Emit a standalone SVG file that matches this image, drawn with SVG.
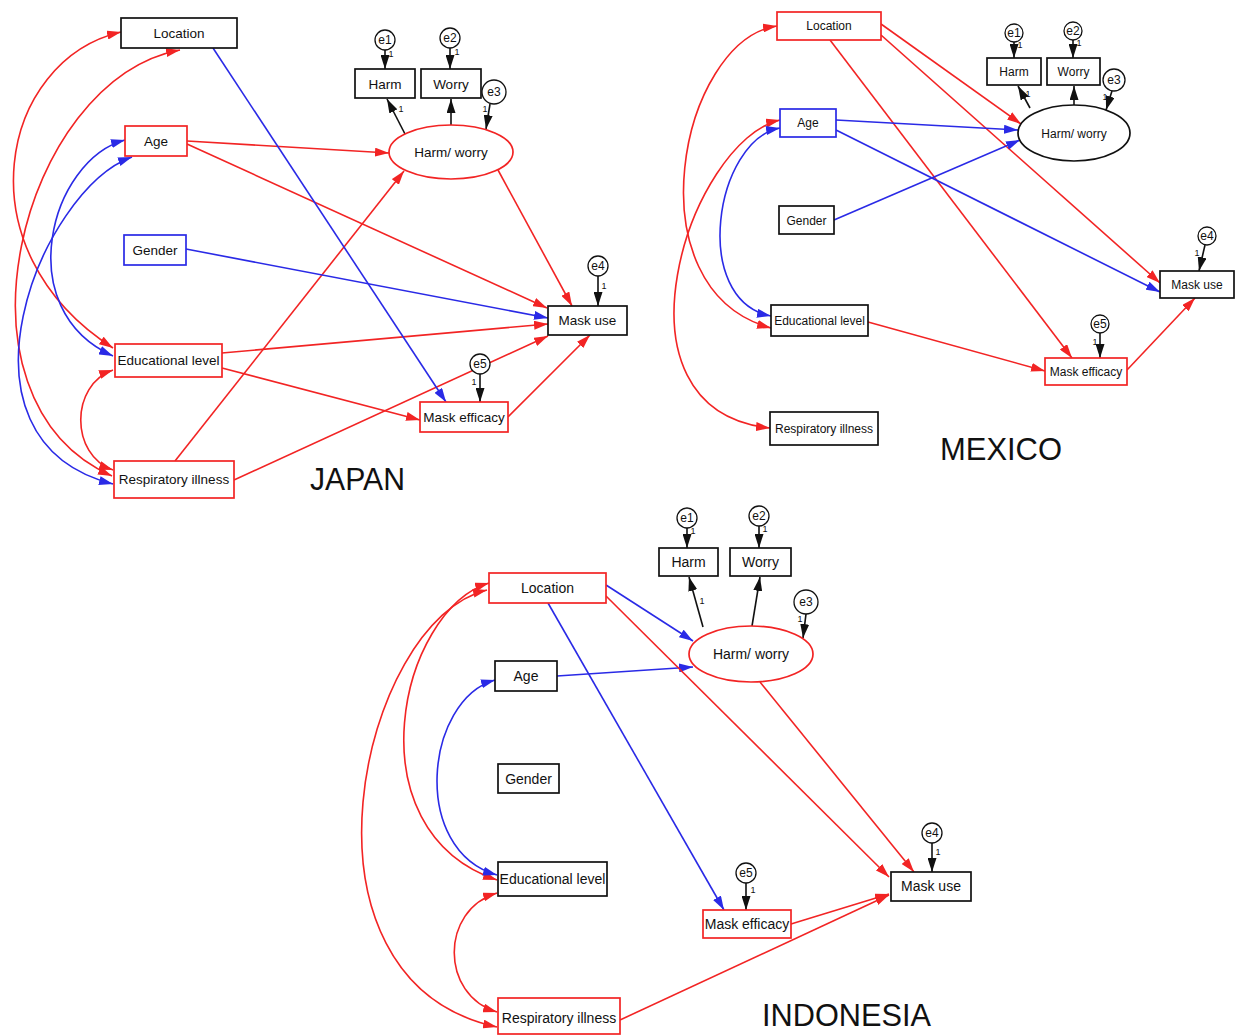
<svg xmlns="http://www.w3.org/2000/svg" width="1237" height="1036" viewBox="0 0 1237 1036">
<style>
.bk{fill:#fff;stroke:#111;stroke-width:1.7}
.rd{fill:#fff;stroke:#f22424;stroke-width:1.7}
.bl{fill:#fff;stroke:#2a2ae6;stroke-width:1.7}
.e{fill:#fff;stroke:#111;stroke-width:1.3}
text{font-family:"Liberation Sans",Arial,sans-serif;fill:#111;text-anchor:middle}
.t1{font-size:13.5px}
.t2{font-size:12px}
.t3{font-size:14px}
.s{font-size:12px}
.n{font-size:9px}
.ttl{font-size:31px;text-anchor:start}
.cr{fill:none;stroke:#f22424;stroke-width:1.6;marker-end:url(#ar)}
.cb{fill:none;stroke:#2a2ae6;stroke-width:1.6;marker-end:url(#ab)}
.ck{fill:none;stroke:#111;stroke-width:1.6;marker-end:url(#ak)}
.dr{fill:none;stroke:#f22424;stroke-width:1.6;marker-start:url(#ar);marker-end:url(#ar)}
.db{fill:none;stroke:#2a2ae6;stroke-width:1.6;marker-start:url(#ab);marker-end:url(#ab)}
</style>
<defs>
<marker id="ar" viewBox="0 0 14 9" refX="14" refY="4.5" markerWidth="14" markerHeight="9" markerUnits="userSpaceOnUse" orient="auto-start-reverse"><path d="M0,0 L14,4.5 L0,9 z" fill="#f22424"/></marker>
<marker id="ab" viewBox="0 0 14 9" refX="14" refY="4.5" markerWidth="14" markerHeight="9" markerUnits="userSpaceOnUse" orient="auto-start-reverse"><path d="M0,0 L14,4.5 L0,9 z" fill="#2a2ae6"/></marker>
<marker id="ak" viewBox="0 0 14 9" refX="14" refY="4.5" markerWidth="14" markerHeight="9" markerUnits="userSpaceOnUse" orient="auto-start-reverse"><path d="M0,0 L14,4.5 L0,9 z" fill="#111"/></marker>
</defs>
<rect width="1237" height="1036" fill="#fff"/>

<g id="connectors">
<!-- JAPAN -->
<path class="dr" d="M121,32 C0,60 -40,250 113,348"/>
<path class="dr" d="M180,50 C20,80 -60,400 112,476"/>
<path class="db" d="M125,140 C50,160 10,310 113,356"/>
<path class="db" d="M132,157 C40,190 -60,440 113,484"/>
<path class="dr" d="M113,370 C70,385 70,455 113,470"/>
<path class="cr" d="M187,141 L389,153"/>
<path class="cr" d="M187,144 L547,308"/>
<path class="cr" d="M498,170 L572,306"/>
<path class="cr" d="M175,461 L404,171"/>
<path class="cr" d="M234,480 L548,336"/>
<path class="cr" d="M222,353 L548,324"/>
<path class="cr" d="M222,368 L420,420"/>
<path class="cr" d="M508,417 L590,335"/>
<path class="cb" d="M213,48 L446,402"/>
<path class="cb" d="M186,249 L548,318"/>
<path class="ck" d="M385,50 L385,69"/>
<path class="ck" d="M450,48 L450,69"/>
<path class="ck" d="M405,134 L387,99"/>
<path class="ck" d="M451,125 L451,99"/>
<path class="ck" d="M490,104 L486,129"/>
<path class="ck" d="M598,276 L598,306"/>
<path class="ck" d="M480,374 L480,402"/>
<!-- MEXICO -->
<path class="dr" d="M777,26 C680,40 630,290 771,328"/>
<path class="dr" d="M780,120 C690,140 600,410 770,428"/>
<path class="db" d="M780,128 C715,140 690,300 771,316"/>
<path class="cr" d="M881,24 L1021,124"/>
<path class="cr" d="M881,35 L1160,283"/>
<path class="cr" d="M830,40 L1072,358"/>
<path class="cr" d="M868,322 L1045,371"/>
<path class="cr" d="M1127,370 L1195,298"/>
<path class="cb" d="M836,120 L1018,130"/>
<path class="cb" d="M836,130 L1160,292"/>
<path class="cb" d="M834,220 L1020,140"/>
<path class="ck" d="M1014,42 L1014,58"/>
<path class="ck" d="M1073,40 L1073,58"/>
<path class="ck" d="M1030,108 L1018,86"/>
<path class="ck" d="M1074,105 L1074,86"/>
<path class="ck" d="M1112,91 L1106,110"/>
<path class="ck" d="M1205,245 L1199,271"/>
<path class="ck" d="M1100,333 L1100,358"/>
<!-- INDONESIA -->
<path class="dr" d="M489,583 C400,610 350,830 497,880"/>
<path class="dr" d="M487,590 C360,620 280,980 497,1027"/>
<path class="db" d="M495,680 C425,700 410,850 497,875"/>
<path class="dr" d="M497,893 C440,910 440,995 497,1012"/>
<path class="cb" d="M606,585 L693,641"/>
<path class="cb" d="M557,676 L693,667"/>
<path class="cb" d="M548,603 L724,910"/>
<path class="cr" d="M606,596 L889,877"/>
<path class="cr" d="M760,682 L914,872"/>
<path class="cr" d="M791,924 L889,894"/>
<path class="cr" d="M620,1020 L889,895"/>
<path class="ck" d="M687,528 L687,548"/>
<path class="ck" d="M759,526 L759,548"/>
<path class="ck" d="M703,627 L689,577"/>
<path class="ck" d="M752,626 L760,577"/>
<path class="ck" d="M806,614 L803,638"/>
<path class="ck" d="M932,843 L932,872"/>
<path class="ck" d="M746,883 L746,910"/>
</g>

<!-- JAPAN nodes -->
<g id="jp-location"><rect class="bk" x="121" y="18" width="116" height="30"/><text class="t1" x="179" y="38">Location</text></g>
<g id="jp-age"><rect class="rd" x="125" y="126" width="62" height="30"/><text class="t1" x="156" y="146">Age</text></g>
<g id="jp-gender"><rect class="bl" x="124" y="235" width="62" height="30"/><text class="t1" x="155" y="255">Gender</text></g>
<g id="jp-edu"><rect class="rd" x="115" y="344" width="107" height="33"/><text class="t1" x="168.5" y="365">Educational level</text></g>
<g id="jp-resp"><rect class="rd" x="114" y="461" width="120" height="37"/><text class="t1" x="174" y="484">Respiratory illness</text></g>
<g id="jp-harm"><rect class="bk" x="355" y="69" width="60" height="29"/><text class="t1" x="385" y="89">Harm</text></g>
<g id="jp-worry"><rect class="bk" x="421" y="69" width="60" height="29"/><text class="t1" x="451" y="89">Worry</text></g>
<g id="jp-hw"><ellipse class="rd" cx="451" cy="152" rx="62" ry="27"/><text class="t1" x="451" y="157">Harm/ worry</text></g>
<g id="jp-e1"><circle class="e" cx="385" cy="40" r="10"/><text class="s" x="385" y="44">e1</text><text class="n" x="391" y="57">1</text></g>
<g id="jp-e2"><circle class="e" cx="450" cy="38" r="10"/><text class="s" x="450" y="42">e2</text><text class="n" x="457" y="55">1</text></g>
<g id="jp-e3"><circle class="e" cx="494" cy="92" r="12"/><text class="s" x="494" y="96">e3</text><text class="n" x="485" y="112">1</text></g>
<g id="jp-l1"><text class="n" x="401" y="112">1</text></g>
<g id="jp-mu"><rect class="bk" x="548" y="306" width="79" height="29"/><text class="t1" x="587.5" y="325">Mask use</text></g>
<g id="jp-e4"><circle class="e" cx="598" cy="266" r="10"/><text class="s" x="598" y="270">e4</text><text class="n" x="604" y="289">1</text></g>
<g id="jp-me"><rect class="rd" x="420" y="402" width="88" height="30"/><text class="t1" x="464" y="422">Mask efficacy</text></g>
<g id="jp-e5"><circle class="e" cx="480" cy="364" r="10"/><text class="s" x="480" y="368">e5</text><text class="n" x="474" y="385">1</text></g>
<text class="ttl" x="310" y="490" textLength="95" lengthAdjust="spacingAndGlyphs">JAPAN</text>

<!-- MEXICO nodes -->
<g id="mx-location"><rect class="rd" x="777" y="12" width="104" height="28"/><text class="t2" x="829" y="30">Location</text></g>
<g id="mx-age"><rect class="bl" x="780" y="109" width="56" height="28"/><text class="t2" x="808" y="127">Age</text></g>
<g id="mx-gender"><rect class="bk" x="779" y="206" width="55" height="28"/><text class="t2" x="806.5" y="225">Gender</text></g>
<g id="mx-edu"><rect class="bk" x="771" y="305" width="97" height="31"/><text class="t2" x="819.5" y="325">Educational level</text></g>
<g id="mx-resp"><rect class="bk" x="770" y="412" width="108" height="33"/><text class="t2" x="824" y="433">Respiratory illness</text></g>
<g id="mx-harm"><rect class="bk" x="987" y="58" width="54" height="27"/><text class="t2" x="1014" y="76">Harm</text></g>
<g id="mx-worry"><rect class="bk" x="1047" y="58" width="53" height="27"/><text class="t2" x="1073.5" y="76">Worry</text></g>
<g id="mx-hw"><ellipse class="bk" cx="1074" cy="133" rx="56" ry="28"/><text class="t2" x="1074" y="138">Harm/ worry</text></g>
<g id="mx-e1"><circle class="e" cx="1014" cy="33" r="9"/><text class="s" x="1014" y="37">e1</text><text class="n" x="1020" y="48">1</text></g>
<g id="mx-e2"><circle class="e" cx="1073" cy="31" r="9"/><text class="s" x="1073" y="35">e2</text><text class="n" x="1079" y="46">1</text></g>
<g id="mx-e3"><circle class="e" cx="1114" cy="80" r="11"/><text class="s" x="1114" y="84">e3</text><text class="n" x="1105" y="100">1</text></g>
<g id="mx-l1"><text class="n" x="1028" y="97">1</text></g>
<g id="mx-mu"><rect class="bk" x="1160" y="271" width="74" height="27"/><text class="t2" x="1197" y="289">Mask use</text></g>
<g id="mx-e4"><circle class="e" cx="1207" cy="236" r="9"/><text class="s" x="1207" y="240">e4</text><text class="n" x="1197" y="256">1</text></g>
<g id="mx-me"><rect class="rd" x="1045" y="358" width="82" height="27"/><text class="t2" x="1086" y="376">Mask efficacy</text></g>
<g id="mx-e5"><circle class="e" cx="1100" cy="324" r="9"/><text class="s" x="1100" y="328">e5</text><text class="n" x="1095" y="345">1</text></g>
<text class="ttl" x="940" y="460" textLength="122" lengthAdjust="spacingAndGlyphs">MEXICO</text>

<!-- INDONESIA nodes -->
<g id="id-location"><rect class="rd" x="489" y="573" width="117" height="30"/><text class="t3" x="547.5" y="593">Location</text></g>
<g id="id-age"><rect class="bk" x="495" y="661" width="62" height="30"/><text class="t3" x="526" y="681">Age</text></g>
<g id="id-gender"><rect class="bk" x="498" y="764" width="61" height="29"/><text class="t3" x="528.5" y="784">Gender</text></g>
<g id="id-edu"><rect class="bk" x="498" y="862" width="109" height="34"/><text class="t3" x="552.5" y="884">Educational level</text></g>
<g id="id-resp"><rect class="rd" x="498" y="998" width="122" height="36"/><text class="t3" x="559" y="1023">Respiratory illness</text></g>
<g id="id-harm"><rect class="bk" x="659" y="548" width="59" height="28"/><text class="t3" x="688.5" y="567">Harm</text></g>
<g id="id-worry"><rect class="bk" x="730" y="548" width="61" height="28"/><text class="t3" x="760.5" y="567">Worry</text></g>
<g id="id-hw"><ellipse class="rd" cx="751" cy="654" rx="62" ry="28"/><text class="t3" x="751" y="659">Harm/ worry</text></g>
<g id="id-e1"><circle class="e" cx="687" cy="518" r="10"/><text class="s" x="687" y="522">e1</text><text class="n" x="693" y="534">1</text></g>
<g id="id-e2"><circle class="e" cx="759" cy="516" r="10"/><text class="s" x="759" y="520">e2</text><text class="n" x="765" y="532">1</text></g>
<g id="id-e3"><circle class="e" cx="806" cy="602" r="12"/><text class="s" x="806" y="606">e3</text><text class="n" x="800" y="622">1</text></g>
<g id="id-l1"><text class="n" x="702" y="604">1</text></g>
<g id="id-mu"><rect class="bk" x="891" y="872" width="80" height="29"/><text class="t3" x="931" y="891">Mask use</text></g>
<g id="id-e4"><circle class="e" cx="932" cy="833" r="10"/><text class="s" x="932" y="837">e4</text><text class="n" x="938" y="855">1</text></g>
<g id="id-me"><rect class="rd" x="703" y="910" width="88" height="28"/><text class="t3" x="747" y="929">Mask efficacy</text></g>
<g id="id-e5"><circle class="e" cx="746" cy="873" r="10"/><text class="s" x="746" y="877">e5</text><text class="n" x="753" y="893">1</text></g>
<text class="ttl" x="762" y="1026" textLength="169" lengthAdjust="spacingAndGlyphs">INDONESIA</text>
</svg>
